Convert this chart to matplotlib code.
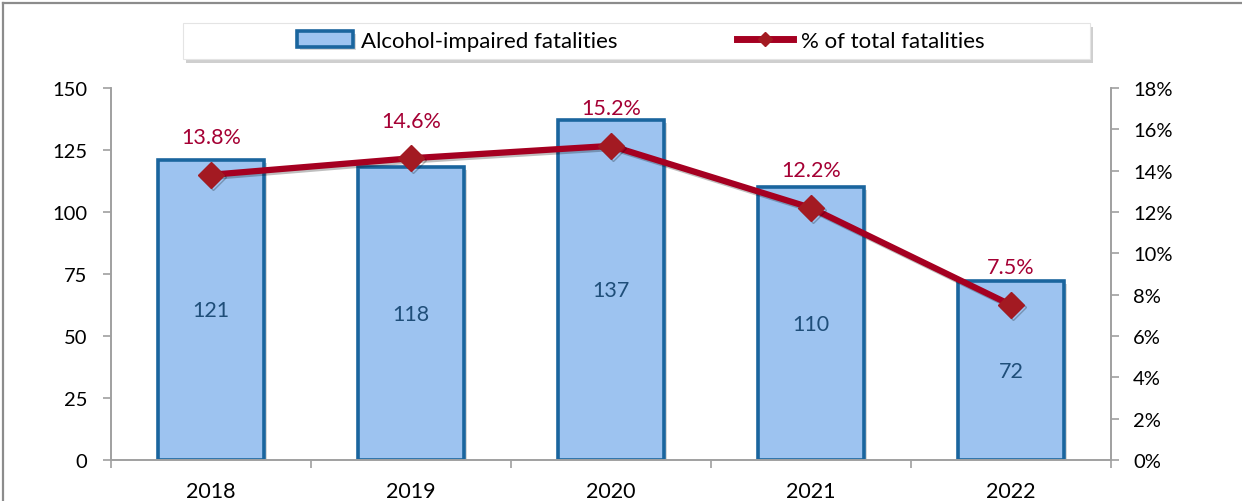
import matplotlib
matplotlib.use('Agg')
import matplotlib.pyplot as plt
import matplotlib.patheffects as pe
from matplotlib.patches import Rectangle
from matplotlib.lines import Line2D

# data
years = ['2018', '2019', '2020', '2021', '2022']
fatalities = [121, 118, 137, 110, 72]
pct_total = [13.8, 14.6, 15.2, 12.2, 7.5]

plt.rcParams['font.family'] = ['Lato', 'DejaVu Sans']

W, H = 1242, 502
fig = plt.figure(figsize=(W / 100, H / 100), dpi=100)

# frame around the figure (only top and left are visible)
fig.add_artist(Line2D([3 / W, 3 / W], [0, 1 - 4 / H], color='#8c8c8c', lw=1.6))
fig.add_artist(Line2D([3 / W, 1], [1 - 4 / H, 1 - 4 / H], color='#8c8c8c', lw=1.6))

ax = fig.add_axes([111 / W, 1 - 461 / H, 1000 / W, 372 / H])
ax2 = ax.twinx()

x = list(range(len(years)))
shadow = [pe.SimplePatchShadow(offset=(2, -2), shadow_rgbFace='#909090', alpha=0.35), pe.Normal()]
bars = ax.bar(x, fatalities, width=0.53, color='#9dc3f0', edgecolor='#1a659e',
              linewidth=2.6, zorder=2)
for b in bars:
    b.set_path_effects(shadow)

for xi, v in zip(x, fatalities):
    ax.text(xi, v / 2, str(v), ha='center', va='center', fontsize=15.5, color='#1f4e79', zorder=3)

line, = ax2.plot(x, pct_total, color='#a50021', lw=4.5, marker='D', markersize=13,
                 markerfacecolor='#a31a22', markeredgecolor='#a31a22', zorder=4,
                 path_effects=[pe.SimpleLineShadow(offset=(1.5, -1.5), alpha=0.25), pe.Normal()])
for xi, v in zip(x, pct_total):
    ax2.annotate(f'{v:.1f}%', (xi, v), xytext=(0, 27), textcoords='offset points',
                 ha='center', va='center', fontsize=15.5, color='#a50034')

ax.set_xlim(-0.5, len(years) - 0.5)
ax.set_ylim(0, 150)
ax.set_yticks(range(0, 151, 25))
ax2.set_ylim(0, 18)
ax2.set_yticks(range(0, 19, 2))
ax2.set_yticklabels([f'{t}%' for t in range(0, 19, 2)])

ax.set_xticks(x)
ax.set_xticklabels(years)
ax.set_xticks([i - 0.5 for i in range(len(years) + 1)], minor=True)
ax.tick_params(axis='x', which='major', length=0, pad=15, labelsize=15.5)
ax.tick_params(axis='x', which='minor', length=6, color='#a0a0a0', width=1.2, direction='out')
ax.tick_params(axis='y', length=6, color='#a0a0a0', width=1.2, pad=11, labelsize=14.5)
ax2.tick_params(axis='y', length=6, color='#a0a0a0', width=1.2, pad=10, labelsize=14.5)

for a in (ax, ax2):
    a.spines['top'].set_visible(False)
    for s in ('left', 'right', 'bottom'):
        a.spines[s].set_color('#a0a0a0')
        a.spines[s].set_linewidth(1.2)
ax.set_zorder(ax2.get_zorder() - 1)
ax2.patch.set_visible(False)
ax.patch.set_visible(False)

# legend box with shadow
fig.add_artist(Rectangle((186 / W, 1 - 64 / H), 907 / W, 36 / H, transform=fig.transFigure,
                         facecolor='#b0b0b0', edgecolor='none', alpha=0.6, zorder=5))
fig.add_artist(Rectangle((183 / W, 1 - 60 / H), 907 / W, 36 / H, transform=fig.transFigure,
                         facecolor='white', edgecolor='#e4e4e4', lw=0.8, zorder=6))
line_handle = Line2D([], [], color='#a50021', lw=5, marker='D', markersize=7,
                     markerfacecolor='#a31a22', markeredgecolor='#a31a22')
leg = fig.legend([bars, line_handle], ['Alcohol-impaired fatalities', '% of total fatalities'],
                 loc='center', bbox_to_anchor=(641 / W, 1 - 42 / H), ncol=2, frameon=False,
                 fontsize=16, columnspacing=5.4, handlelength=2.5, handletextpad=0.36)
leg.set_zorder(7)

fig.savefig('out.png', dpi=100)
